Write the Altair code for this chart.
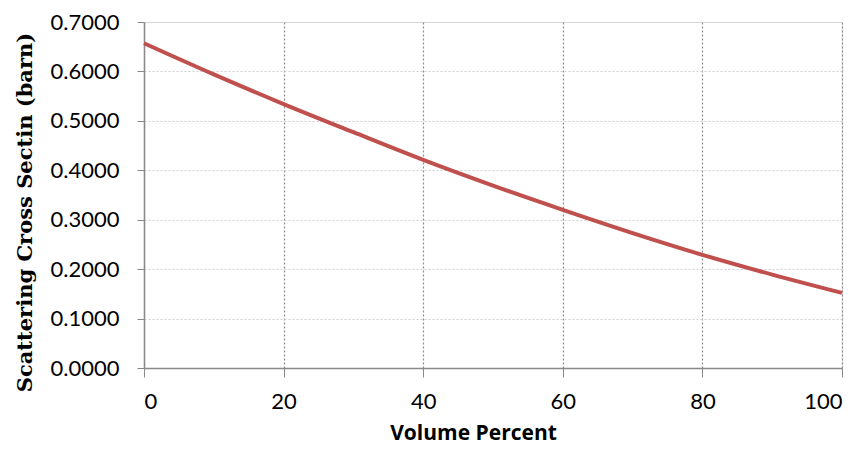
import altair as alt
import pandas as pd

volume_percent = [0, 10, 20, 30, 40, 50, 60, 70, 80, 90, 100]
cross_section = [0.657, 0.594, 0.534, 0.477, 0.421, 0.369, 0.320, 0.273, 0.229, 0.189, 0.152]

df = pd.DataFrame({"Volume Percent": volume_percent, "Cross": cross_section})

line = alt.Chart(df).mark_line(color="#C0504D", strokeWidth=4, interpolate="monotone").encode(
    x=alt.X("Volume Percent:Q",
            scale=alt.Scale(domain=[0, 100], nice=False, zero=False),
            axis=alt.Axis(values=[0, 20, 40, 60, 80, 100], format="d",
                          title="Volume Percent",
                          titleFont="Open Sans", titleFontSize=21, titleFontWeight="bold",
                          titleColor="#000", titleX=329, titleY=71, titleAnchor="middle",
                          titleBaseline="alphabetic",
                          labelFont="Lato", labelFontSize=22, labelColor="#000",
                          labelPadding=14, tickSize=9, tickColor="#898989",
                          domainColor="#898989", domainWidth=1.5,
                          grid=True, gridColor="#8a8a8a", gridDash=[2, 2], gridWidth=1.2)),
    y=alt.Y("Cross:Q",
            scale=alt.Scale(domain=[0, 0.7], nice=False),
            axis=alt.Axis(values=[0, 0.1, 0.2, 0.3, 0.4, 0.5, 0.6, 0.7], format=".4f",
                          title="Scattering Cross Sectin (barn)",
                          titleFont="DejaVu Serif", titleFontSize=21, titleFontWeight="bold",
                          titleColor="#000", titleX=-109, titleY=190, titleAnchor="middle",
                          titleAngle=270, titleBaseline="bottom",
                          labelFont="Lato", labelFontSize=22, labelColor="#000",
                          labelPadding=18, tickSize=7, tickColor="#898989",
                          domainColor="#898989", domainWidth=1.5,
                          grid=True, gridColor="#cfcfcf", gridDash=[2, 2], gridWidth=1.2)),
)

chart = line.properties(
    width=698, height=346,
    autosize=alt.AutoSizeParams(type="none"),
    padding={"left": 136, "top": 14, "right": 14, "bottom": 80},
).configure_view(stroke=None).configure(background="white")

chart.save("out.html", embed_options={"renderer": "svg", "actions": False})
